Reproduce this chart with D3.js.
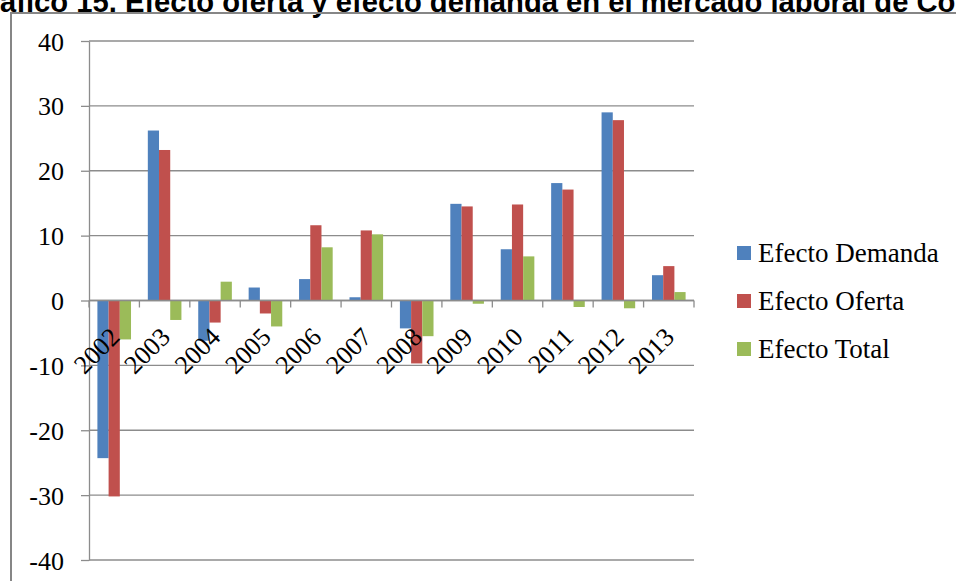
<!DOCTYPE html>
<html>
<head>
<meta charset="utf-8">
<script src="https://cdn.jsdelivr.net/npm/d3@7"></script>
<style>
  body { margin: 0; background: #fff; }
  svg { display: block; }
  .axis text, .legend text { font-family: "Liberation Serif", "DejaVu Serif", serif; font-size: 26px; fill: #000; }
  .legend text { font-size: 27px; }
  .grid line, .axis path, .axis line { stroke: #8c8c8c; stroke-width: 1.3; }
</style>
</head>
<body>
<svg width="956" height="581"></svg>
<script>
// Data
var years = ["2002", "2003", "2004", "2005", "2006", "2007", "2008", "2009", "2010", "2011", "2012", "2013"];
var efectoDemanda = [-24.3, 26.2, -6.2, 2.0, 3.3, 0.5, -4.3, 14.9, 7.9, 18.1, 29.0, 3.9];
var efectoOferta  = [-30.2, 23.2, -3.4, -2.0, 11.6, 10.8, -9.7, 14.5, 14.8, 17.1, 27.8, 5.3];
var efectoTotal   = [-6.0, -3.0, 2.9, -4.0, 8.2, 10.2, -5.5, -0.5, 6.8, -1.0, -1.2, 1.3];
var seriesNames = ["Efecto Demanda", "Efecto Oferta", "Efecto Total"];
var seriesColors = ["#4F81BD", "#C0504D", "#9BBB59"];
var yTicks = [-40, -30, -20, -10, 0, 10, 20, 30, 40];
var titleText = "Gráfico 15. Efecto oferta y efecto demanda en el mercado laboral de Colombia";

var svg = d3.select("svg"),
    margin = {top: 41, right: 262, bottom: 21, left: 89},
    width = svg.attr("width") - margin.left - margin.right,
    height = svg.attr("height") - margin.top - margin.bottom;

// Title (cropped at the top like the source)
var title = svg.append("text")
    .attr("y", 12)
    .style("font-family", "'Liberation Sans', Arial, sans-serif")
    .style("font-weight", "bold")
    .style("font-size", "29.2px")
    .text(titleText);
var probe = svg.append("text")
    .style("font-family", "'Liberation Sans', Arial, sans-serif")
    .style("font-weight", "bold")
    .style("font-size", "29.2px")
    .text("Gr");
title.attr("x", -probe.node().getComputedTextLength());
probe.remove();

// Chart frame
svg.append("path")
    .attr("d", "M11,600 L11,13 L970,13")
    .attr("fill", "none")
    .attr("stroke", "#868686")
    .attr("stroke-width", 2);

var g = svg.append("g")
    .attr("transform", "translate(" + margin.left + "," + margin.top + ")");

// Scales
var x = d3.scaleBand().domain(years).range([0, width]).paddingInner(0).paddingOuter(0);
var x1 = d3.scaleBand().domain(seriesNames).range([0, x.bandwidth()]).paddingInner(0).paddingOuter(0.75);
var y = d3.scaleLinear().domain([-40, 40]).range([height, 0]);
var color = d3.scaleOrdinal().domain(seriesNames).range(seriesColors);

// Gridlines
g.append("g")
    .attr("class", "grid")
    .selectAll("line")
    .data(yTicks)
    .enter().append("line")
      .attr("x1", 0)
      .attr("x2", width)
      .attr("y1", function(d) { return y(d); })
      .attr("y2", function(d) { return y(d); });

// Y axis (plain hyphen minus, like the source)
g.append("g")
    .attr("class", "axis axis--y")
    .call(d3.axisLeft(y).tickValues(yTicks).tickSize(8).tickSizeOuter(0).tickPadding(17)
      .tickFormat(function(d) { return String(d); }))
    .selectAll("text")
      .attr("dy", "0.35em");

// Bars
var rows = years.map(function(d, i) {
  return {year: d, values: [efectoDemanda[i], efectoOferta[i], efectoTotal[i]]};
});

var group = g.selectAll(".year")
    .data(rows)
    .enter().append("g")
      .attr("class", "year")
      .attr("transform", function(d) { return "translate(" + x(d.year) + ",0)"; });

group.selectAll("rect")
    .data(function(d) { return d.values.map(function(v, j) { return {key: seriesNames[j], value: v}; }); })
    .enter().append("rect")
      .attr("x", function(d) { return x1(d.key); })
      .attr("y", function(d) { return y(Math.max(0, d.value)); })
      .attr("width", x1.bandwidth())
      .attr("height", function(d) { return Math.abs(y(d.value) - y(0)); })
      .attr("fill", function(d) { return color(d.key); });

// X axis (category axis at zero)
var xAxis = g.append("g")
    .attr("class", "axis axis--x")
    .attr("transform", "translate(0," + y(0) + ")");

xAxis.append("line")
    .attr("x1", 0).attr("x2", width)
    .attr("y1", 0).attr("y2", 0);

xAxis.selectAll(".tick-mark")
    .data(years.concat(["end"]))
    .enter().append("line")
      .attr("class", "tick-mark")
      .attr("x1", function(d) { return d === "end" ? width : x(d); })
      .attr("x2", function(d) { return d === "end" ? width : x(d); })
      .attr("y1", 0)
      .attr("y2", 7);

xAxis.selectAll(".label")
    .data(years)
    .enter().append("text")
      .attr("class", "label")
      .attr("text-anchor", "end")
      .attr("transform", function(d) {
        return "translate(" + (x(d) + x.bandwidth() / 2 + 7) + ",38) rotate(-45)";
      })
      .text(function(d) { return d; });

// Legend
var legend = svg.append("g")
    .attr("class", "legend")
    .attr("transform", "translate(737,253)");

var item = legend.selectAll("g")
    .data(seriesNames)
    .enter().append("g")
      .attr("transform", function(d, i) { return "translate(0," + (i * 48) + ")"; });

item.append("rect")
    .attr("x", 0)
    .attr("y", -7)
    .attr("width", 14)
    .attr("height", 14)
    .attr("fill", function(d) { return color(d); });

item.append("text")
    .attr("x", 21)
    .attr("y", 9)
    .text(function(d) { return d; });
</script>
</body>
</html>
